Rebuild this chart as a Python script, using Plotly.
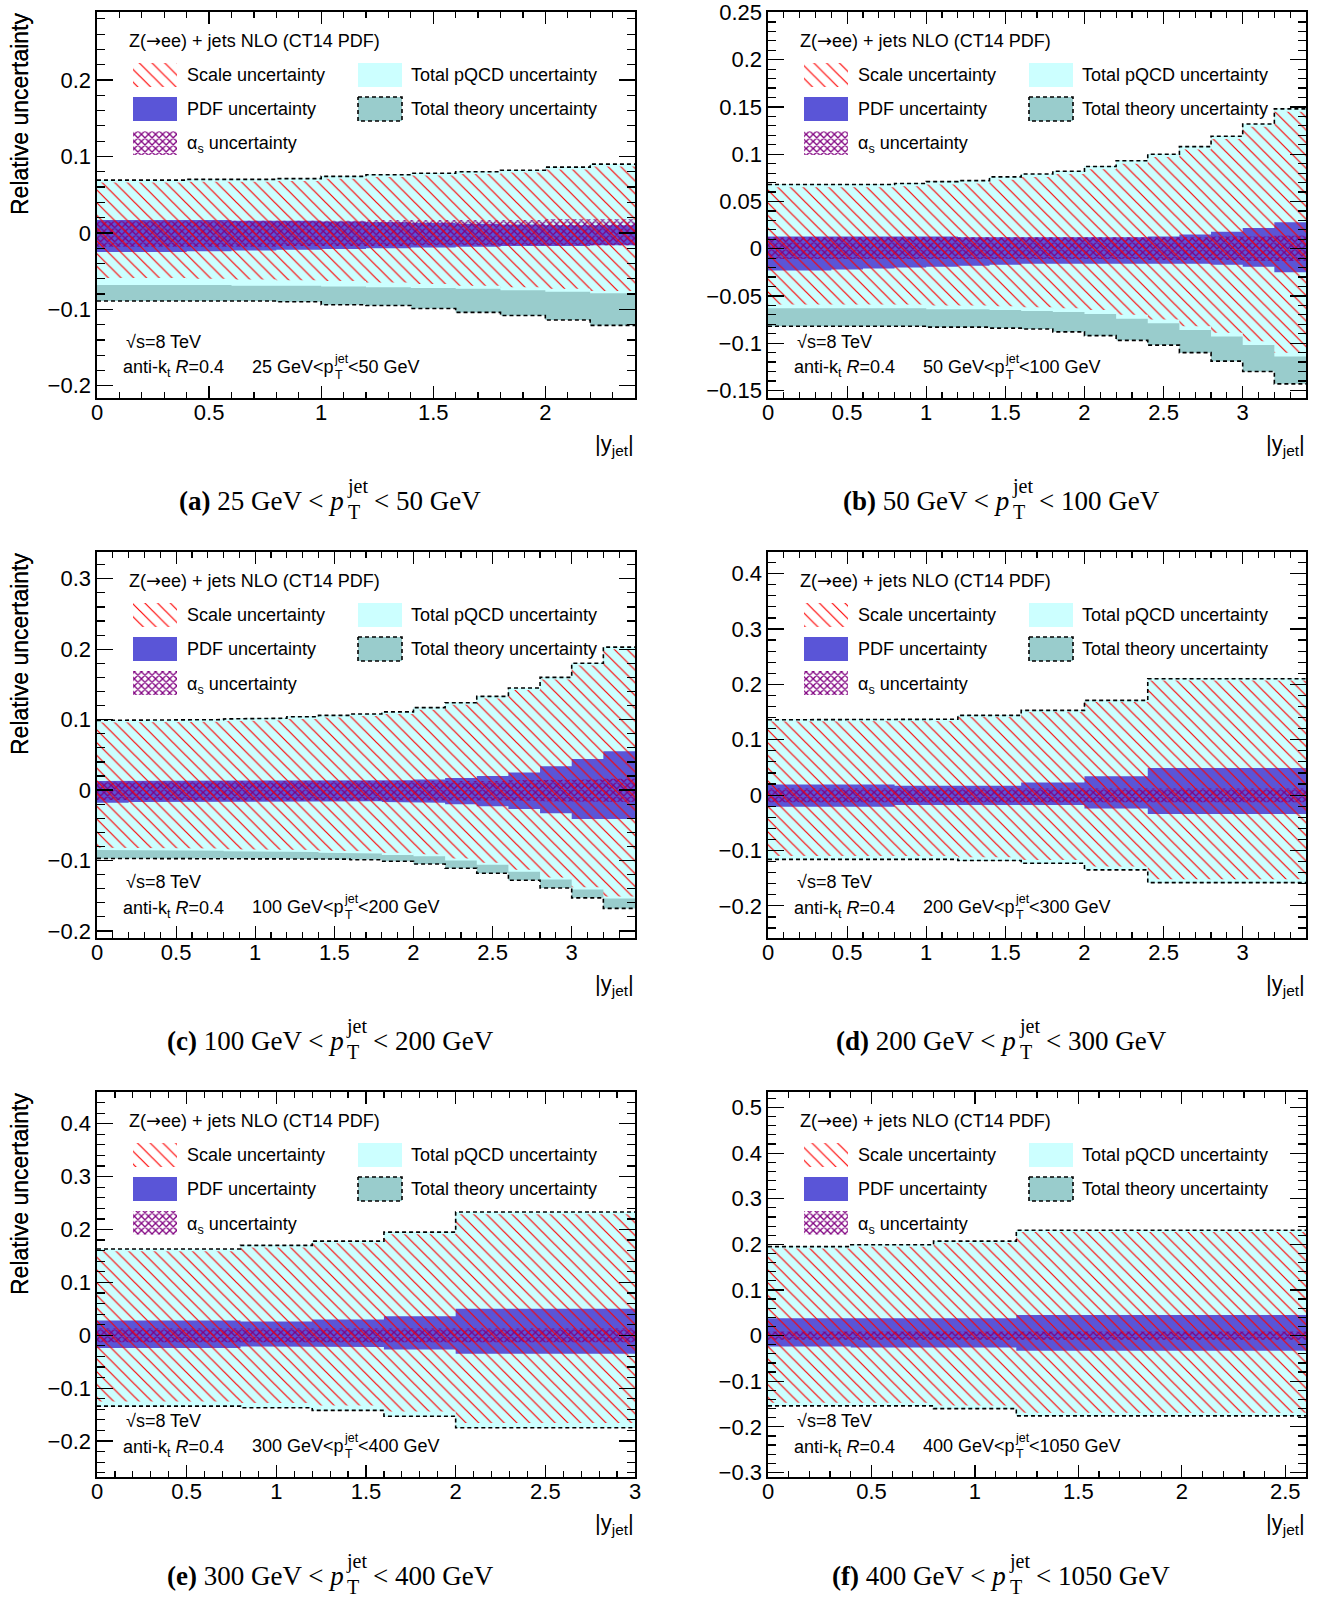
import plotly.graph_objects as go

W, H = 1318, 1600          # target picture size (px)
OFF = 0                    # page margin is removed by the post script below
FW, FH = W - OFF, H - OFF

# ----------------------------- data -----------------------------
PANEL_KEYS = ["a", "b", "c", "d", "e", "f"]
PT_LOW = [25, 50, 100, 200, 300, 400]
PT_HIGH = [50, 100, 200, 300, 400, 1050]

# (a) 25-50 GeV
a_edges = [0.0, 0.2, 0.4, 0.6, 0.8, 1.0, 1.2, 1.4, 1.6, 1.8, 2.0, 2.2, 2.4]
a_theory_up = [0.069, 0.069, 0.070, 0.070, 0.071, 0.074, 0.076, 0.078, 0.080, 0.082, 0.086, 0.090]
a_theory_lo = [-0.089, -0.089, -0.089, -0.089, -0.090, -0.094, -0.095, -0.099, -0.104, -0.108, -0.114, -0.121]
a_pqcd_up = [0.069, 0.069, 0.070, 0.070, 0.071, 0.074, 0.076, 0.078, 0.080, 0.082, 0.086, 0.090]
a_pqcd_lo = [-0.068, -0.068, -0.068, -0.069, -0.069, -0.070, -0.071, -0.072, -0.073, -0.075, -0.077, -0.079]
a_scale_up = [0.066, 0.066, 0.067, 0.067, 0.068, 0.071, 0.073, 0.075, 0.077, 0.079, 0.083, 0.087]
a_scale_lo = [-0.059, -0.059, -0.060, -0.061, -0.062, -0.063, -0.065, -0.067, -0.069, -0.071, -0.073, -0.076]
a_pdf_up = [0.017, 0.017, 0.017, 0.016, 0.016, 0.015, 0.014, 0.013, 0.012, 0.011, 0.010, 0.010]
a_pdf_lo = [-0.025, -0.025, -0.024, -0.023, -0.022, -0.021, -0.020, -0.019, -0.018, -0.017, -0.017, -0.016]
a_as_up = [0.016, 0.016, 0.016, 0.016, 0.016, 0.016, 0.017, 0.017, 0.017, 0.017, 0.018, 0.018]
a_as_lo = [-0.018, -0.018, -0.018, -0.018, -0.017, -0.017, -0.017, -0.016, -0.016, -0.016, -0.016, -0.016]

# (b) 50-100 GeV
b_edges = [0.0, 0.2, 0.4, 0.6, 0.8, 1.0, 1.2, 1.4, 1.6, 1.8, 2.0, 2.2, 2.4, 2.6, 2.8, 3.0, 3.2, 3.4]
b_theory_up = [0.068, 0.068, 0.068, 0.068, 0.069, 0.071, 0.072, 0.076, 0.079, 0.082, 0.087, 0.093, 0.100, 0.108, 0.119, 0.132, 0.148]
b_theory_lo = [-0.082, -0.082, -0.082, -0.082, -0.082, -0.083, -0.083, -0.084, -0.085, -0.088, -0.092, -0.097, -0.102, -0.110, -0.119, -0.130, -0.143]
b_pqcd_up = [0.068, 0.068, 0.068, 0.068, 0.069, 0.071, 0.072, 0.076, 0.079, 0.082, 0.087, 0.093, 0.100, 0.108, 0.119, 0.132, 0.148]
b_pqcd_lo = [-0.063, -0.063, -0.063, -0.063, -0.063, -0.064, -0.064, -0.065, -0.066, -0.067, -0.069, -0.074, -0.079, -0.086, -0.093, -0.102, -0.114]
b_scale_up = [0.065, 0.065, 0.065, 0.065, 0.066, 0.068, 0.069, 0.073, 0.076, 0.079, 0.084, 0.090, 0.097, 0.105, 0.116, 0.129, 0.145]
b_scale_lo = [-0.059, -0.059, -0.059, -0.059, -0.059, -0.060, -0.060, -0.061, -0.062, -0.063, -0.065, -0.070, -0.075, -0.082, -0.089, -0.098, -0.110]
b_pdf_up = [0.013, 0.013, 0.013, 0.013, 0.013, 0.013, 0.012, 0.012, 0.012, 0.012, 0.012, 0.012, 0.013, 0.015, 0.018, 0.022, 0.028]
b_pdf_lo = [-0.023, -0.023, -0.022, -0.021, -0.020, -0.019, -0.018, -0.017, -0.016, -0.016, -0.016, -0.016, -0.016, -0.016, -0.017, -0.019, -0.025]
b_as_up = [0.012, 0.012, 0.012, 0.012, 0.012, 0.012, 0.012, 0.012, 0.012, 0.012, 0.012, 0.012, 0.012, 0.012, 0.013, 0.013, 0.014]
b_as_lo = [-0.011, -0.011, -0.011, -0.011, -0.011, -0.011, -0.011, -0.011, -0.011, -0.011, -0.011, -0.011, -0.012, -0.012, -0.012, -0.013, -0.013]

# (c) 100-200 GeV
c_edges = [0.0, 0.2, 0.4, 0.6, 0.8, 1.0, 1.2, 1.4, 1.6, 1.8, 2.0, 2.2, 2.4, 2.6, 2.8, 3.0, 3.2, 3.4]
c_theory_up = [0.099, 0.099, 0.100, 0.100, 0.101, 0.102, 0.104, 0.106, 0.108, 0.111, 0.117, 0.124, 0.133, 0.145, 0.160, 0.180, 0.203]
c_theory_lo = [-0.097, -0.097, -0.097, -0.097, -0.097, -0.097, -0.098, -0.098, -0.099, -0.101, -0.105, -0.111, -0.118, -0.128, -0.139, -0.153, -0.168]
c_pqcd_up = [0.099, 0.099, 0.100, 0.100, 0.101, 0.102, 0.104, 0.106, 0.108, 0.111, 0.117, 0.124, 0.133, 0.145, 0.160, 0.180, 0.203]
c_pqcd_lo = [-0.085, -0.085, -0.086, -0.086, -0.087, -0.087, -0.088, -0.089, -0.090, -0.092, -0.094, -0.100, -0.106, -0.116, -0.127, -0.141, -0.154]
c_scale_up = [0.096, 0.096, 0.097, 0.097, 0.098, 0.099, 0.101, 0.103, 0.105, 0.108, 0.114, 0.121, 0.130, 0.142, 0.157, 0.177, 0.200]
c_scale_lo = [-0.082, -0.082, -0.083, -0.083, -0.084, -0.084, -0.085, -0.086, -0.087, -0.089, -0.091, -0.097, -0.103, -0.113, -0.124, -0.138, -0.151]
c_pdf_up = [0.013, 0.013, 0.013, 0.013, 0.013, 0.013, 0.013, 0.013, 0.013, 0.014, 0.015, 0.017, 0.020, 0.025, 0.034, 0.044, 0.055]
c_pdf_lo = [-0.018, -0.017, -0.017, -0.016, -0.016, -0.016, -0.016, -0.016, -0.016, -0.017, -0.018, -0.020, -0.023, -0.027, -0.033, -0.041, -0.041]
c_as_up = [0.012, 0.012, 0.012, 0.012, 0.012, 0.012, 0.012, 0.012, 0.012, 0.012, 0.012, 0.013, 0.013, 0.014, 0.014, 0.015, 0.016]
c_as_lo = [-0.014, -0.014, -0.014, -0.014, -0.014, -0.014, -0.014, -0.014, -0.014, -0.014, -0.014, -0.014, -0.015, -0.015, -0.016, -0.016, -0.017]

# (d) 200-300 GeV
d_edges = [0.0, 0.4, 0.8, 1.2, 1.6, 2.0, 2.4, 3.4]
d_theory_up = [0.136, 0.136, 0.137, 0.144, 0.153, 0.171, 0.210]
d_theory_lo = [-0.116, -0.116, -0.116, -0.118, -0.123, -0.135, -0.158]
d_pqcd_up = [0.136, 0.136, 0.137, 0.144, 0.153, 0.171, 0.210]
d_pqcd_lo = [-0.116, -0.116, -0.116, -0.118, -0.123, -0.135, -0.158]
d_scale_up = [0.133, 0.133, 0.134, 0.141, 0.150, 0.168, 0.207]
d_scale_lo = [-0.110, -0.110, -0.110, -0.112, -0.117, -0.129, -0.152]
d_pdf_up = [0.019, 0.019, 0.017, 0.017, 0.023, 0.034, 0.049]
d_pdf_lo = [-0.021, -0.021, -0.018, -0.018, -0.018, -0.024, -0.034]
d_as_up = [0.012, 0.012, 0.012, 0.012, 0.012, 0.012, 0.012]
d_as_lo = [-0.013, -0.013, -0.013, -0.013, -0.013, -0.013, -0.013]

# (e) 300-400 GeV
e_edges = [0.0, 0.4, 0.8, 1.2, 1.6, 2.0, 3.0]
e_theory_up = [0.163, 0.163, 0.170, 0.178, 0.195, 0.233]
e_theory_lo = [-0.134, -0.134, -0.137, -0.142, -0.153, -0.175]
e_pqcd_up = [0.163, 0.163, 0.170, 0.178, 0.195, 0.233]
e_pqcd_lo = [-0.134, -0.134, -0.137, -0.142, -0.153, -0.175]
e_scale_up = [0.159, 0.159, 0.166, 0.174, 0.191, 0.229]
e_scale_lo = [-0.125, -0.125, -0.128, -0.133, -0.144, -0.166]
e_pdf_up = [0.028, 0.028, 0.026, 0.030, 0.036, 0.050]
e_pdf_lo = [-0.024, -0.024, -0.021, -0.022, -0.027, -0.035]
e_as_up = [0.013, 0.013, 0.013, 0.013, 0.013, 0.013]
e_as_lo = [-0.013, -0.013, -0.013, -0.013, -0.013, -0.013]

# (f) 400-1050 GeV
f_edges = [0.0, 0.4, 0.8, 1.2, 2.6]
f_theory_up = [0.195, 0.199, 0.207, 0.231]
f_theory_lo = [-0.154, -0.154, -0.160, -0.176]
f_pqcd_up = [0.195, 0.199, 0.207, 0.231]
f_pqcd_lo = [-0.154, -0.154, -0.160, -0.176]
f_scale_up = [0.191, 0.195, 0.203, 0.227]
f_scale_lo = [-0.147, -0.147, -0.153, -0.169]
f_pdf_up = [0.038, 0.038, 0.038, 0.045]
f_pdf_lo = [-0.024, -0.026, -0.026, -0.033]
f_as_up = [0.009, 0.009, 0.009, 0.009]
f_as_lo = [-0.009, -0.009, -0.009, -0.009]

# axis settings per panel
Y_RANGES = [(-0.216, 0.289), (-0.158, 0.2505), (-0.21, 0.338), (-0.258, 0.439), (-0.268, 0.460), (-0.31, 0.534)]
Y_DTICK = [0.1, 0.05, 0.1, 0.1, 0.1, 0.1]
Y_MINOR = [0.02, 0.01, 0.02, 0.02, 0.02, 0.02]
X_MAX = [2.4, 3.4, 3.4, 3.4, 3.0, 2.6]

ARROW = '<span style="font-family:DejaVu Sans">→</span>'
TITLE_TEXT = "Z(" + ARROW + "ee) + jets NLO (CT14 PDF)"
LEG_SCALE = "Scale uncertainty"
LEG_PDF = "PDF uncertainty"
LEG_AS = "α<sub>s</sub> uncertainty"
LEG_PQCD = "Total pQCD uncertainty"
LEG_THEORY = "Total theory uncertainty"
Y_TITLE = "Relative uncertainty"
X_TITLE = "|y<sub>jet</sub>|"

PANELS = []
_ns = globals()
for _k in PANEL_KEYS:
    PANELS.append({n: _ns[f"{_k}_{n}"] for n in
                   ["edges", "theory_up", "theory_lo", "pqcd_up", "pqcd_lo", "scale_up",
                    "scale_lo", "pdf_up", "pdf_lo", "as_up", "as_lo"]})

# ----------------------------- style -----------------------------
SANS = "Liberation Sans, Arial, Helvetica, sans-serif"
SERIF = "Liberation Serif, Times New Roman, serif"
C_THEORY = "#99cccc"
C_PQCD = "#ccffff"
C_PDF = "#5a55d7"
C_AS = "#800080"
C_SCALE = "#ff0000"

COL_X = [(97, 635), (768, 1306)]
ROW_Y = [(12, 398), (552, 938), (1092, 1477)]

SCALE_PAT = dict(shape="\\", fgcolor=C_SCALE, fgopacity=1, bgcolor="rgba(0,0,0,0)",
                 size=9, solidity=0.13, fillmode="overlay")
AS_PAT = dict(shape="x", fgcolor=C_AS, fgopacity=1, bgcolor="rgba(0,0,0,0)",
              size=5, solidity=0.45, fillmode="overlay")

TR = {" ": 250, "<": 564, "G": 722, "e": 444, "V": 722, "(": 333, ")": 333}
TR.update({str(d): 500 for d in range(10)})
TB = {"(": 333, ")": 333, "a": 500, "b": 556, "c": 444, "d": 556, "e": 444, "f": 333}
AR = {" ": 278, "<": 584, "G": 778, "e": 556, "V": 667, "p": 556}
AR.update({str(d): 556 for d in range(10)})


def tw(s, table, size):
    return sum(table[ch] for ch in s) * size / 1000.0


def fx(px):
    return (px - OFF) / FW


def fy(py):
    return 1 - (py - OFF) / FH


def steps(edges, vals):
    xs, ys = [], []
    for i, v in enumerate(vals):
        xs += [edges[i], edges[i + 1]]
        ys += [v, v]
    return xs, ys


def band(edges, up, lo):
    xu, yu = steps(edges, up)
    xl, yl = steps(edges, lo)
    return xu + xl[::-1] + [xu[0]], yu + yl[::-1] + [yu[0]]


fig = go.Figure()
annotations = []


def ann(x, y, text, size, family=SANS, xanchor="left", yanchor="middle", angle=0):
    annotations.append(dict(x=fx(x), y=fy(y), xref="paper", yref="paper", text=text,
                            showarrow=False, xanchor=xanchor, yanchor=yanchor, textangle=angle,
                            font=dict(family=family, size=size, color="black"), borderpad=0))


def fill_trace(x, y, xa, ya, color=None, pattern=None, line=None):
    kw = dict(x=x, y=y, xaxis=xa, yaxis=ya, mode="lines", fill="toself",
              hoverinfo="skip", showlegend=False)
    kw["line"] = line if line else dict(width=0, color="rgba(0,0,0,0)")
    if pattern:
        kw["fillcolor"] = "rgba(0,0,0,0)"
        kw["fillpattern"] = pattern
    else:
        kw["fillcolor"] = color
    fig.add_trace(go.Scatter(**kw))


layout_axes = {}
for i, p in enumerate(PANELS):
    col, row = i % 2, i // 2
    L, R = COL_X[col]
    T, B = ROW_Y[row]
    sfx = "" if i == 0 else str(i + 1)
    xa, ya = "x" + sfx, "y" + sfx
    e = p["edges"]

    fill_trace(*band(e, p["theory_up"], p["theory_lo"]), xa, ya, color=C_THEORY)
    fill_trace(*band(e, p["pqcd_up"], p["pqcd_lo"]), xa, ya, color=C_PQCD)
    fill_trace(*band(e, p["pdf_up"], p["pdf_lo"]), xa, ya, color=C_PDF)
    fill_trace(*band(e, p["as_up"], p["as_lo"]), xa, ya, pattern=AS_PAT)
    fill_trace(*band(e, p["scale_up"], p["scale_lo"]), xa, ya, pattern=SCALE_PAT)
    for vals in (p["theory_up"], p["theory_lo"]):
        sx, sy = steps(e, vals)
        fig.add_trace(go.Scatter(x=sx, y=sy, xaxis=xa, yaxis=ya, mode="lines",
                                 line=dict(color="black", width=1.6, dash="4px,3px"),
                                 hoverinfo="skip", showlegend=False))

    common = dict(showline=True, linecolor="black", linewidth=1.6, mirror="allticks",
                  ticks="inside", tickcolor="black", tickwidth=1.2, showgrid=False,
                  zeroline=False, tickfont=dict(family=SANS, size=22, color="black"),
                  fixedrange=True, automargin=False, ticklabeloverflow="allow")
    layout_axes["xaxis" + sfx] = dict(
        common, domain=[fx(L), fx(R)], range=[0, X_MAX[i]], anchor=ya,
        ticklen=12, tick0=0, dtick=0.5, ticklabelstandoff=-6,
        minor=dict(ticks="inside", ticklen=6, tick0=0, dtick=0.1, tickcolor="black",
                   tickwidth=1.2, showgrid=False))
    layout_axes["yaxis" + sfx] = dict(
        common, domain=[fy(B), fy(T)], range=list(Y_RANGES[i]), anchor=xa,
        ticklen=16, tick0=0, dtick=Y_DTICK[i],
        minor=dict(ticks="inside", ticklen=8, tick0=0, dtick=Y_MINOR[i], tickcolor="black",
                   tickwidth=1.2, showgrid=False))

    # ---- legend (drawn in the pixel overlay axes) ----
    bw, bh = 44, 24
    rows_c = [T + 63, T + 97, T + 131]
    c1, c2 = L + 36, L + 261

    def bx(xl, yc):
        return [xl, xl + bw, xl + bw, xl, xl], [yc - bh / 2, yc - bh / 2, yc + bh / 2, yc + bh / 2, yc - bh / 2]

    fill_trace(*bx(c1, rows_c[0]), "x7", "y7", pattern=SCALE_PAT)
    fill_trace(*bx(c1, rows_c[1]), "x7", "y7", color=C_PDF)
    fill_trace(*bx(c1, rows_c[2]), "x7", "y7", pattern=AS_PAT)
    fill_trace(*bx(c2, rows_c[0]), "x7", "y7", color=C_PQCD)
    fill_trace(*bx(c2, rows_c[1]), "x7", "y7", color=C_THEORY,
               line=dict(color="black", width=1.6, dash="4px,3px"))

    ann(L + 31, T + 28, TITLE_TEXT, 18)
    ann(L + 89, rows_c[0], LEG_SCALE, 18)
    ann(L + 89, rows_c[1], LEG_PDF, 18)
    ann(L + 89, rows_c[2] + 2, LEG_AS, 18)
    ann(L + 313, rows_c[0], LEG_PQCD, 18)
    ann(L + 313, rows_c[1], LEG_THEORY, 18)

    # ---- bottom-left labels ----
    lo, hi = PT_LOW[i], PT_HIGH[i]
    bfs = 18
    base2 = B - 25
    ann(L + 28, B - 50 - 6, "√s=8 TeV", bfs)
    ann(L + 25, base2 - 6 + 2, "anti-k<sub>t</sub> <i>R</i>=0.4", bfs)
    xs0 = L + 154
    w1 = tw(f"{lo} GeV<p", AR, bfs)
    ann(xs0, base2 - 6, f"{lo} GeV&lt;p", bfs)
    ann(xs0 + w1 + 0.5, base2 - 14, "jet", 12.5)
    ann(xs0 + w1 + 1.5, base2 + 2, "T", 12.5)
    ann(xs0 + w1 + 14, base2 - 6, f"&lt;{hi} GeV", bfs)

    # ---- axis titles ----
    ann(20, T, Y_TITLE, 23, xanchor="center", yanchor="top", angle=-90)
    ann(R, B + 47, X_TITLE, 22, xanchor="right")

    # ---- caption ----
    cx = 329 + col * 671
    by = 510 + row * 540 - (5 if row == 2 else 0)
    key = PANEL_KEYS[i]
    fs, ss = 27, 20
    wl = tw(f"({key})", TB, fs) + tw(f" {lo} GeV < ", TR, fs) + 0.5 * fs
    wr = tw(f"< {hi} GeV", TR, fs)
    gap_r = 6
    total = wl + 3.5 + 20 + gap_r + wr
    x0 = cx - total / 2
    ann(x0, by - 0.3375 * fs, f"<b>({key})</b> {lo} GeV &lt; <i>p</i>", fs, SERIF)
    ann(x0 + wl + 2.5, by - 17 - 0.3375 * ss, "jet", ss, SERIF)
    ann(x0 + wl + 3.5, by + 9 - 0.3375 * ss, "T", ss, SERIF)
    ann(x0 + wl + 3.5 + 20 + gap_r, by - 0.3375 * fs, f"&lt; {hi} GeV", fs, SERIF)

layout_axes["xaxis7"] = dict(domain=[0, 1], range=[OFF, OFF + FW], visible=False, anchor="y7",
                             fixedrange=True, automargin=False)
layout_axes["yaxis7"] = dict(domain=[0, 1], range=[OFF + FH, OFF], visible=False, anchor="x7",
                             fixedrange=True, automargin=False)

fig.update_layout(width=FW, height=FH, margin=dict(l=0, r=0, t=0, b=0, autoexpand=False),
                  paper_bgcolor="white", plot_bgcolor="rgba(0,0,0,0)",
                  showlegend=False, annotations=annotations, **layout_axes)

fig.write_html("out.html", config={"displayModeBar": False, "staticPlot": True},
               post_script="document.body.style.margin='0px';document.body.style.overflow='hidden';")
